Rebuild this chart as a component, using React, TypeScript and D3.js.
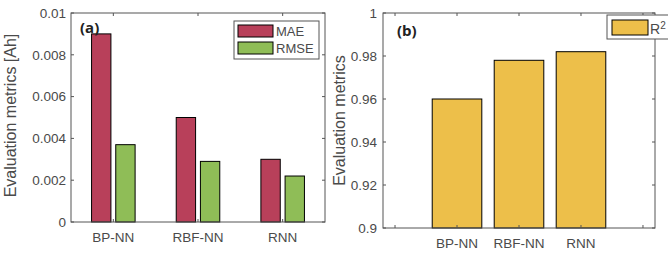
import React from "react";
import * as d3 from "d3";

const categories = ["BP-NN", "RBF-NN", "RNN"];
const maeValues = [0.009, 0.005, 0.003];
const rmseValues = [0.0037, 0.0029, 0.0022];
const r2Values = [0.96, 0.978, 0.982];
const leftTicks = [0, 0.002, 0.004, 0.006, 0.008, 0.01];
const leftTickLabels = ["0", "0.002", "0.004", "0.006", "0.008", "0.01"];
const rightTicks = [0.9, 0.92, 0.94, 0.96, 0.98, 1];
const rightTickLabels = ["0.9", "0.92", "0.94", "0.96", "0.98", "1"];

const COL_MAE = "#B8405A";
const COL_RMSE = "#8FBD57";
const COL_R2 = "#EDBF4A";
const AX = "#555";
const TXT = "#4a4a4a";
const FONT = "'Liberation Sans', Arial, Helvetica, sans-serif";

export default function App() {
  const L = { x0: 71, x1: 325, y0: 13, y1: 222 };
  const xl = d3.scaleLinear().domain([0.5, 3.5]).range([L.x0, L.x1]);
  const yl = d3.scaleLinear().domain([0, 0.01]).range([L.y1, L.y0]);
  const unitL = xl(1) - xl(0);
  const groupW = 2 / 3.5;
  const off = groupW / 4;
  const bw = (0.8 * groupW) / 2;

  const R = { x0: 383, x1: 655, y0: 13, y1: 228 };
  const xr = d3.scaleLinear().domain([-0.194, 4.194]).range([R.x0, R.x1]);
  const yr = d3.scaleLinear().domain([0.9, 1]).range([R.y1, R.y0]);
  const unitR = xr(1) - xr(0);

  const tickLen = 3;
  const FS = 13.5;

  return (
    <div style={{ position: "absolute", left: 0, top: 0 }}>
      <svg width={668} height={253} style={{ display: "block", background: "#fff" }} fontFamily={FONT}>
        {/* ===== Left panel ===== */}
        <rect x={L.x0} y={L.y0} width={L.x1 - L.x0} height={L.y1 - L.y0} fill="#fff" />
        {categories.map((c, i) => (
          <g key={"l" + c}>
            <rect
              x={xl(i + 1 - off) - (bw * unitL) / 2}
              y={yl(maeValues[i])}
              width={bw * unitL}
              height={yl(0) - yl(maeValues[i])}
              fill={COL_MAE}
              stroke="#000"
              strokeWidth={1}
            />
            <rect
              x={xl(i + 1 + off) - (bw * unitL) / 2}
              y={yl(rmseValues[i])}
              width={bw * unitL}
              height={yl(0) - yl(rmseValues[i])}
              fill={COL_RMSE}
              stroke="#000"
              strokeWidth={1}
            />
          </g>
        ))}
        <rect x={L.x0} y={L.y0} width={L.x1 - L.x0} height={L.y1 - L.y0} fill="none" stroke={AX} strokeWidth={1} />
        {leftTicks.map((t, i) => (
          <g key={"lt" + i}>
            <line x1={L.x0} x2={L.x0 + tickLen} y1={yl(t)} y2={yl(t)} stroke={AX} />
            <line x1={L.x1} x2={L.x1 - tickLen} y1={yl(t)} y2={yl(t)} stroke={AX} />
            <text x={L.x0 - 5} y={yl(t)} dy="0.35em" textAnchor="end" fontSize={FS} fill={TXT}>
              {leftTickLabels[i]}
            </text>
          </g>
        ))}
        {categories.map((c, i) => (
          <g key={"lx" + c}>
            <line x1={xl(i + 1)} x2={xl(i + 1)} y1={L.y1} y2={L.y1 - tickLen} stroke={AX} />
            <line x1={xl(i + 1)} x2={xl(i + 1)} y1={L.y0} y2={L.y0 + tickLen} stroke={AX} />
            <text x={xl(i + 1)} y={L.y1 + 20} textAnchor="middle" fontSize={FS} fill={TXT}>
              {c}
            </text>
          </g>
        ))}
        <text
          transform={`translate(16,${(L.y0 + L.y1) / 2 - 2}) rotate(-90)`}
          textAnchor="middle"
          fontSize={16}
          fill={TXT}
        >
          Evaluation metrics [Ah]
        </text>
        <text x={80} y={33} fontSize={15} fontWeight="bold" fill="#222" fontFamily="'Open Sans', sans-serif">
          (a)
        </text>
        <rect x={234} y={21} width={85} height={38} fill="#fff" stroke={AX} />
        <rect x={238} y={25} width={35} height={12} fill={COL_MAE} stroke="#000" />
        <rect x={238} y={42} width={35} height={12} fill={COL_RMSE} stroke="#000" />
        <text x={276} y={36} fontSize={13} fill={TXT}>MAE</text>
        <text x={276} y={53} fontSize={13} fill={TXT}>RMSE</text>

        {/* ===== Right panel ===== */}
        <rect x={R.x0} y={R.y0} width={R.x1 - R.x0} height={R.y1 - R.y0} fill="#fff" />
        {categories.map((c, i) => (
          <rect
            key={"rb" + c}
            x={xr(i + 1) - (0.8 * unitR) / 2}
            y={yr(r2Values[i])}
            width={0.8 * unitR}
            height={yr(0.9) - yr(r2Values[i])}
            fill={COL_R2}
            stroke="#000"
            strokeWidth={1}
          />
        ))}
        <rect x={R.x0} y={R.y0} width={R.x1 - R.x0} height={R.y1 - R.y0} fill="none" stroke={AX} strokeWidth={1} />
        {rightTicks.map((t, i) => (
          <g key={"rt" + i}>
            <line x1={R.x0} x2={R.x0 + tickLen} y1={yr(t)} y2={yr(t)} stroke={AX} />
            <line x1={R.x1} x2={R.x1 - tickLen} y1={yr(t)} y2={yr(t)} stroke={AX} />
            <text x={R.x0 - 6} y={yr(t)} dy="0.35em" textAnchor="end" fontSize={FS} fill={TXT}>
              {rightTickLabels[i]}
            </text>
          </g>
        ))}
        {[0, 1, 2, 3, 4].map((v) => (
          <g key={"rx" + v}>
            <line x1={xr(v)} x2={xr(v)} y1={R.y1} y2={R.y1 - tickLen} stroke={AX} />
            <line x1={xr(v)} x2={xr(v)} y1={R.y0} y2={R.y0 + tickLen} stroke={AX} />
          </g>
        ))}
        {categories.map((c, i) => (
          <text key={"rl" + c} x={xr(i + 1)} y={R.y1 + 20} textAnchor="middle" fontSize={FS} fill={TXT}>
            {c}
          </text>
        ))}
        <text
          transform={`translate(345,${(R.y0 + R.y1) / 2}) rotate(-90)`}
          textAnchor="middle"
          fontSize={16}
          fill={TXT}
        >
          Evaluation metrics
        </text>
        <text x={397} y={36} fontSize={15} fontWeight="bold" fill="#222" fontFamily="'Open Sans', sans-serif">
          (b)
        </text>
        <rect x={607} y={15} width={80} height={24} fill="#fff" stroke={AX} />
        <rect x={612} y={20} width={36} height={15} fill={COL_R2} stroke="#000" />
        <text x={650} y={34} fontSize={14} fill={TXT}>
          R<tspan dy={-5} fontSize={10}>2</tspan>
        </text>
      </svg>
    </div>
  );
}
